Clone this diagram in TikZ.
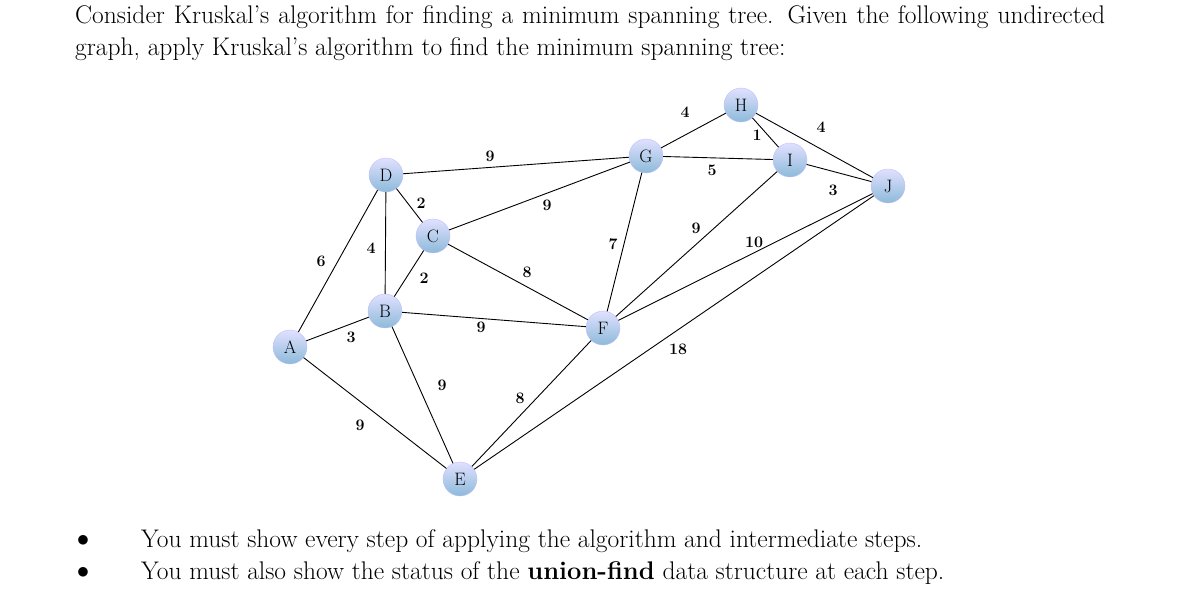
\documentclass[tikz,border=0pt]{standalone}
\usepackage{fontspec}
\begin{document}
\begin{tikzpicture}[x=1pt,y=-1pt,
  vtx/.style={circle,minimum size=34pt,inner sep=0pt,top color=blue!12!white,bottom color=blue!40!cyan!35!white!85!black,draw=blue!25!white,font=\fontsize{18}{20}\selectfont},
  wl/.style={font=\fontsize{16}{18}\selectfont\bfseries},
  ed/.style={line width=0.9pt}]
\useasboundingbox (0,0) rectangle (1196,590);
\node[anchor=north west,inner sep=0pt,text width=1030pt,align=justify,font=\fontsize{25.5}{32}\selectfont] (t) at (75,5) {Consider Kruskal's algorithm for finding a minimum spanning tree. Given the following undirected graph, apply Kruskal's algorithm to find the minimum spanning tree:};
\node[vtx] (A) at (290,347) {A};
\node[vtx] (B) at (385,311) {B};
\node[vtx] (C) at (433,236) {C};
\node[vtx] (D) at (386,175) {D};
\node[vtx] (E) at (460,479) {E};
\node[vtx] (F) at (603,328) {F};
\node[vtx] (G) at (646,156) {G};
\node[vtx] (H) at (741,105) {H};
\node[vtx] (I) at (790,160) {I};
\node[vtx] (J) at (888,186) {J};
\begin{scope}[on background layer/.style={}]
\foreach \a/\b in {D/G,G/H,H/I,H/J,G/I,I/J,D/C,C/G,D/B,A/D,C/B,C/F,G/F,I/F,J/F,B/F,A/B,B/E,E/F,E/J,A/E}
  \draw[ed] (\a) -- (\b);
\end{scope}
\foreach \x/\y/\w in {490/156/9,685/112/4,757/135/1,821/127/4,712/170/5,833/190/3,421/203/2,547/205/9,371/248/4,321/261/6,424/278/2,527/272/8,613/244/7,696/228/9,754/242/10,481/327/9,351/337/3,442/385/9,520/398/8,678/349/18,360/425/9}
  \node[wl] (w\x) at (\x,\y) {\w};
\foreach \y/\s [count=\i] in {541/{You must show every step of applying the algorithm and intermediate steps.},573/{You must also show the status of the \textbf{union-find} data structure at each step.}}{
  \node[font=\fontsize{25.5}{32}\selectfont] (b\i) at (83,\y) {$\bullet$};
  \node[anchor=west,inner sep=0pt,font=\fontsize{25.5}{32}\selectfont] (l\i) at (141,\y) {\s};
}
\end{tikzpicture}
\end{document}
